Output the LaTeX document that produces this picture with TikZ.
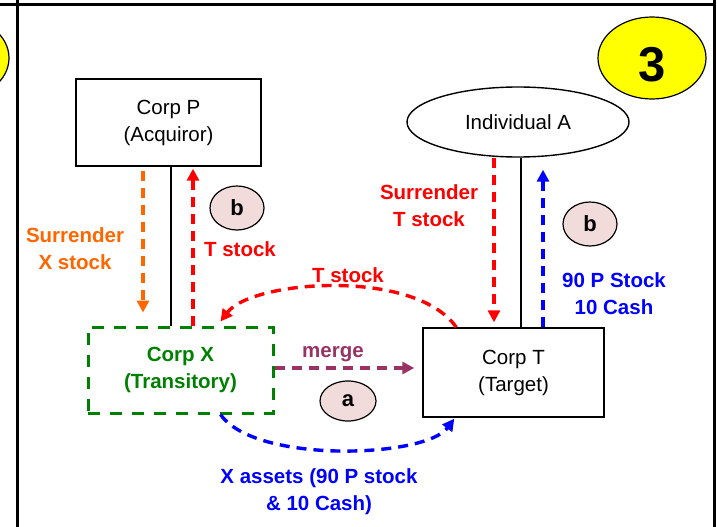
\documentclass[tikz,border=0pt]{standalone}
\usepackage{fontspec}
\setmainfont{Liberation Sans}
\usetikzlibrary{arrows.meta,shapes.geometric,calc}
\definecolor{myorange}{HTML}{FF6600}
\definecolor{myred}{HTML}{FF0000}
\definecolor{myblue}{HTML}{0000FF}
\definecolor{mygreen}{HTML}{008000}
\definecolor{mypurple}{HTML}{993366}
\definecolor{myyellow}{HTML}{FFFF00}
\definecolor{mypink}{HTML}{F2DCDB}
\tikzset{
  txt/.style={font=\fontsize{20.5}{27}\selectfont, align=center, inner sep=0pt},
  btxt/.style={txt, font=\fontsize{20.5}{27}\selectfont\bfseries},
  corpbox/.style={txt, draw=black, line width=1.4pt, minimum width=#1},
  flow/.style={line width=3.4pt, dash pattern=on 10pt off 7pt, -{Triangle[length=12pt,width=12pt]}},
  stepbadge/.style={ellipse, draw=black, line width=1.2pt, fill=mypink, minimum width=54pt, minimum height=44pt, inner sep=0pt, font=\fontsize{22}{26}\selectfont\bfseries},
  plainline/.style={line width=1.2pt, draw=black}
}
\begin{document}
\begin{tikzpicture}[x=1pt,y=-1pt]
\useasboundingbox (0,0) rectangle (717,527);
% frame
\fill[myyellow] (-43,58) ellipse [x radius=52, y radius=41];
\draw[line width=1.2pt] (-43,58) ellipse [x radius=52, y radius=41];
\draw[line width=3pt] (0,4.5) -- (715,4.5);
\draw[line width=3pt] (17.7,0) -- (17.7,527);
\draw[line width=3pt] (714,0) -- (714,527);
% badge 3
\node[ellipse, draw=black, line width=1.2pt, fill=myyellow, minimum width=108pt, minimum height=82pt, inner sep=0pt] (n3) at (652,58) {};
\node[inner sep=0pt, font=\fontsize{49}{50}\selectfont\bfseries] (n3t) at (652,64.5) {3};
% main nodes
\node[corpbox=185pt, minimum height=87pt] (P) at (168.5,122.5) {Corp P\\(Acquiror)};
\node[ellipse, draw=black, line width=1.4pt, minimum width=222pt, minimum height=70pt, inner sep=0pt, txt] (A) at (518,122) {Individual A};
\node[btxt, draw=mygreen, text=mygreen, line width=3pt, dash pattern=on 12pt off 10pt, minimum width=185pt, minimum height=86pt] (X) at (180.5,370) {Corp X\\(Transitory)};
\node[corpbox=181pt, minimum height=89pt] (T) at (513.5,372.5) {Corp T\\(Target)};
% helper coordinates
\coordinate (xo) at (143,0);
\coordinate (xl) at (171,0);
\coordinate (xr) at (193,0);
\coordinate (xo2) at (494,0);
\coordinate (xl2) at (521,0);
\coordinate (xb2) at (543,0);
% vertical connectors
\draw[plainline] (P.south -| xl) -- (X.north -| xl);
\draw[plainline] (A.south -| xl2) -- (T.north -| xl2);
\draw[flow, myorange, shorten <=4pt, shorten >=13pt] (P.south -| xo) -- (X.north -| xo);
\draw[flow, myred, shorten >=2pt] (X.north -| xr) -- (P.south -| xr);
\draw[flow, myred, shorten >=5pt] (A.south -| xo2) -- (T.north -| xo2);
\draw[flow, myblue, shorten >=12pt] (T.north -| xb2) -- (A.south -| xb2);
% curved connectors
\draw[flow, myred] ($(T.north west)+(34,0)$) .. controls (415,268) and (252,280) .. ($(X.north west)+(134,-4)$);
\draw[flow, myblue] ($(X.south west)+(134,0)$) .. controls (255,464) and (425,458) .. ($(T.south west)+(32,1)$);
\draw[flow, mypurple, shorten >=8pt] ($(X.east)+(0,-2)$) -- ($(X.east -| T.west)+(0,-2)$);
% labels
\node[btxt, text=myorange] (l1) at (75,249) {Surrender\\X stock};
\node[btxt, text=myred] (l2) at (240,249) {T stock};
\node[btxt, text=myred] (l3) at (429,206) {Surrender\\T stock};
\node[btxt, text=myblue] (l4) at (614,294) {90 P Stock\\10 Cash};
\node[btxt, text=myred] (l5) at (348,275) {T stock};
\node[btxt, text=mypurple] (l6) at (333,354) {merge};
\node[btxt, text=myblue] (l7) at (319,492) {X assets (90 P stock\\\& 10 Cash)};
% step badges
\node[stepbadge] (b1) at (237,208) {b};
\node[stepbadge] (b2) at (590,224) {b};
\node[stepbadge, minimum width=56pt, minimum height=40pt] (a1) at (348,401) {a};
\end{tikzpicture}
\end{document}
